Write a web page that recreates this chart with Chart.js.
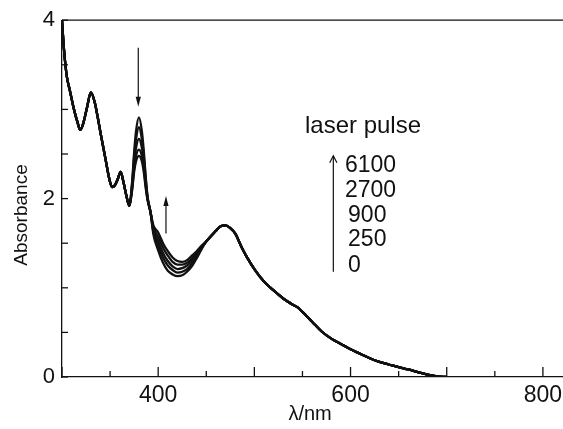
<!DOCTYPE html>
<html>
<head>
<meta charset="utf-8">
<script src="https://cdn.jsdelivr.net/npm/chart.js@4.4.1/dist/chart.umd.min.js"></script>
<style>
  html, body { margin: 0; padding: 0; background: #fff; }
  #wrap { width: 563px; height: 429px; overflow: hidden; }
  canvas { display: block; }
</style>
</head>
<body>
<div id="wrap"><canvas id="c" width="600" height="429"></canvas></div>
<script>
// number of laser pulses for each spectrum
const pulses = ['0', '250', '900', '2700', '6100'];

// shared part, UV side
const wlLeft  = [300, 302, 305, 308, 312, 316, 319, 322, 326, 330, 334, 337, 340, 343, 346, 349, 352, 355, 358, 361, 364, 367];
const absLeft = [4.00, 3.68, 3.37, 3.22, 3.02, 2.86, 2.77, 2.84, 3.02, 3.19, 3.08, 2.92, 2.74, 2.57, 2.40, 2.23, 2.13, 2.15, 2.22, 2.30, 2.18, 2.03];

// 380 nm band (goes down with pulses)
const wlPeak  = [370, 373, 375, 377, 380, 383, 385, 387, 389, 392];
const peak0    = [1.92, 2.20, 2.52, 2.76, 2.91, 2.76, 2.54, 2.25, 2.02, 1.85];
const peak250  = [1.92, 2.18, 2.47, 2.67, 2.80, 2.67, 2.48, 2.22, 2.01, 1.85];
const peak900  = [1.92, 2.15, 2.40, 2.57, 2.67, 2.57, 2.41, 2.18, 2.00, 1.85];
const peak2700 = [1.92, 2.12, 2.34, 2.48, 2.55, 2.48, 2.35, 2.15, 1.99, 1.85];
const peak6100 = [1.92, 2.10, 2.30, 2.42, 2.48, 2.42, 2.30, 2.12, 1.98, 1.85];

// 420 nm valley (goes up with pulses)
const wlTrough  = [395, 400, 405, 410, 415, 420, 425, 430, 435, 440, 445];
const trough0    = [1.60, 1.42, 1.28, 1.19, 1.15, 1.13, 1.14, 1.18, 1.24, 1.33, 1.43];
const trough250  = [1.63, 1.47, 1.34, 1.25, 1.20, 1.17, 1.18, 1.21, 1.27, 1.35, 1.44];
const trough900  = [1.65, 1.52, 1.39, 1.30, 1.24, 1.21, 1.22, 1.25, 1.30, 1.37, 1.45];
const trough2700 = [1.68, 1.57, 1.45, 1.36, 1.29, 1.26, 1.26, 1.28, 1.33, 1.39, 1.46];
const trough6100 = [1.70, 1.62, 1.50, 1.41, 1.34, 1.30, 1.29, 1.31, 1.36, 1.41, 1.47];

// shared part, visible side
const wlRight  = [450, 455, 460, 465, 470, 475, 480, 487, 493, 500, 510, 520, 530, 540, 545, 550, 560, 570, 580, 590, 600, 610, 620, 630, 640, 650, 660, 670, 680, 690, 700];
const absRight = [1.52, 1.58, 1.64, 1.69, 1.70, 1.67, 1.61, 1.45, 1.33, 1.21, 1.07, 0.97, 0.88, 0.81, 0.78, 0.73, 0.62, 0.51, 0.43, 0.37, 0.31, 0.26, 0.21, 0.17, 0.14, 0.11, 0.085, 0.055, 0.028, 0.008, 0];

const peakSets   = [peak0, peak250, peak900, peak2700, peak6100];
const troughSets = [trough0, trough250, trough900, trough2700, trough6100];

function spectrum(i) {
    const xs = wlLeft.concat(wlPeak, wlTrough, wlRight);
    const ys = absLeft.concat(peakSets[i], troughSets[i], absRight);
    return xs.map((x, k) => ({ x: x, y: ys[k] }));
}

const FONT = '"Liberation Sans", Arial, Helvetica, sans-serif';
const INK = '#111';

function arrow(ctx, x1, y1, x2, y2, filled) {
    const ang = Math.atan2(y2 - y1, x2 - x1);
    const hl = filled ? 10 : 7, hw = filled ? 2.6 : 3.6;
    ctx.beginPath();
    ctx.moveTo(x1, y1);
    ctx.lineTo(filled ? x2 - Math.cos(ang) * hl * 0.8 : x2, filled ? y2 - Math.sin(ang) * hl * 0.8 : y2);
    ctx.stroke();
    const bx = x2 - Math.cos(ang) * hl, by = y2 - Math.sin(ang) * hl;
    const nx = -Math.sin(ang) * hw, ny = Math.cos(ang) * hw;
    ctx.beginPath();
    ctx.moveTo(bx + nx, by + ny);
    ctx.lineTo(x2, y2);
    ctx.lineTo(bx - nx, by - ny);
    if (filled) { ctx.closePath(); ctx.fill(); } else { ctx.stroke(); }
}

const decor = {
    id: 'decor',
    afterDraw(chart) {
        const { ctx, chartArea: a, scales: { x, y } } = chart;
        ctx.save();
        ctx.strokeStyle = INK;
        ctx.fillStyle = INK;
        ctx.lineWidth = 1.3;

        // top frame line
        ctx.beginPath();
        ctx.moveTo(a.left, a.top);
        ctx.lineTo(a.right, a.top);
        ctx.stroke();

        // ticks pointing into the plot
        x.ticks.forEach(t => {
            const px = x.getPixelForValue(t.value);
            const len = t.value % 100 === 0 ? 10 : 6;
            ctx.beginPath(); ctx.moveTo(px, a.bottom); ctx.lineTo(px, a.bottom - len); ctx.stroke();
        });
        y.ticks.forEach(t => {
            const py = y.getPixelForValue(t.value);
            ctx.beginPath(); ctx.moveTo(a.left, py); ctx.lineTo(a.left + 6, py); ctx.stroke();
        });

        // arrows on the spectra
        ctx.lineWidth = 1.2;
        arrow(ctx, x.getPixelForValue(379.3), y.getPixelForValue(3.69), x.getPixelForValue(379.3), y.getPixelForValue(3.03), true);
        arrow(ctx, x.getPixelForValue(408.1), y.getPixelForValue(1.61), x.getPixelForValue(408.1), y.getPixelForValue(2.03), true);
        // arrow beside the pulse numbers
        arrow(ctx, x.getPixelForValue(582.1), y.getPixelForValue(1.18), x.getPixelForValue(582.1), y.getPixelForValue(2.48), false);

        // legend text
        ctx.textAlign = 'left';
        ctx.textBaseline = 'alphabetic';
        ctx.font = '24px ' + FONT;
        ctx.fillText('laser pulse', x.getPixelForValue(552.6), y.getPixelForValue(2.74));
        ctx.font = '23px ' + FONT;
        const labelA = [2.296, 2.017, 1.737, 1.464, 1.179];
        const labelX = [594.2, 594.2, 597.4, 597.4, 597.4];
        pulses.slice().reverse().forEach((p, i) => {
            ctx.fillText(p, x.getPixelForValue(labelX[i]), y.getPixelForValue(labelA[i]));
        });

        // axis titles
        ctx.textAlign = 'center';
        ctx.textBaseline = 'middle';
        ctx.font = '20px ' + FONT;
        ctx.fillText('\u03bb/nm', x.getPixelForValue(557.9), a.bottom + 37);
        ctx.save();
        ctx.translate(22, 215);
        ctx.rotate(-Math.PI / 2);
        ctx.font = '19px ' + FONT;
        ctx.fillText('Absorbance', 0, 0);
        ctx.restore();

        ctx.restore();
    }
};

new Chart(document.getElementById('c'), {
    type: 'line',
    data: {
        datasets: pulses.map((p, i) => ({
            label: p,
            data: spectrum(i),
            borderColor: INK,
            borderWidth: 2.3,
            pointRadius: 0,
            fill: false,
            cubicInterpolationMode: 'monotone'
        }))
    },
    options: {
        responsive: false,
        animation: false,
        devicePixelRatio: 1,
        layout: { padding: { left: 0, top: 19, right: 9, bottom: 0 } },
        plugins: { legend: { display: false }, tooltip: { enabled: false } },
        scales: {
            x: {
                type: 'linear',
                min: 300,
                max: 850,
                afterFit: s => { s.height = 52; },
                grid: { drawOnChartArea: false, drawTicks: false },
                border: { display: true, color: INK, width: 1.3 },
                ticks: {
                    stepSize: 50,
                    autoSkip: false,
                    maxRotation: 0,
                    padding: 5,
                    color: INK,
                    font: { family: FONT, size: 23 },
                    callback: v => (v % 200 === 0 && v >= 400) ? String(v) : ''
                }
            },
            y: {
                min: 0,
                max: 4,
                afterFit: s => { s.width = 62; },
                grid: { drawOnChartArea: false, drawTicks: false },
                border: { display: true, color: INK, width: 1.3 },
                ticks: {
                    stepSize: 0.5,
                    autoSkip: false,
                    padding: 7,
                    color: INK,
                    font: { family: FONT, size: 22 },
                    callback: v => v % 2 === 0 ? String(v) : ''
                }
            }
        }
    },
    plugins: [decor]
});
</script>
</body>
</html>
